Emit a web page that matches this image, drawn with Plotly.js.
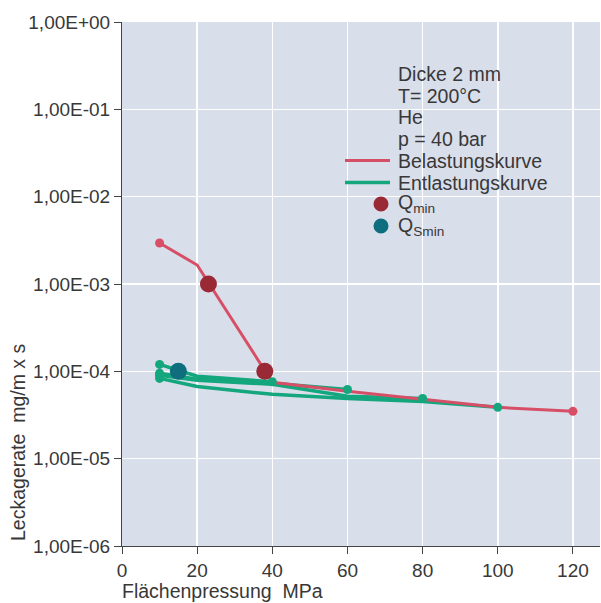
<!DOCTYPE html>
<html>
<head>
<meta charset="utf-8">
<script src="https://cdn.plot.ly/plotly-3.0.1.min.js"></script>
<style>html,body{margin:0;padding:0;background:#fff;}#chart{width:601px;height:603px;}</style>
</head>
<body>
<div id="chart"></div>
<script>
// Belastungskurve (loading curve)
const loadX = [10, 20, 40, 60, 80, 100, 120];
const loadY = [2.95e-3, 1.65e-3, 7.5e-5, 5.9e-5, 4.8e-5, 3.87e-5, 3.48e-5];

// Entlastungskurven (unloading curves)
const unload40X = [40, 20, 10];
const unload40Y = [7.6e-5, 8.8e-5, 1.2e-4];
const unload60X = [60, 40, 20, 10];
const unload60Y = [6.2e-5, 7.3e-5, 8.1e-5, 9.5e-5];
const unload80X = [80, 60, 40, 20, 10];
const unload80Y = [4.9e-5, 5.2e-5, 7.1e-5, 7.9e-5, 9.0e-5];
const unload100X = [100, 80, 60, 40, 20, 10];
const unload100Y = [3.87e-5, 4.5e-5, 4.9e-5, 5.45e-5, 6.7e-5, 8.3e-5];

// Q_min and Q_Smin points
const qminX = [23, 38];
const qminY = [1e-3, 1e-4];
const qsminX = [15];
const qsminY = [1e-4];

// Axis ticks
const yTickVals = [1, 1e-1, 1e-2, 1e-3, 1e-4, 1e-5, 1e-6];
const yTickText = ["1,00E+00", "1,00E-01", "1,00E-02", "1,00E-03", "1,00E-04", "1,00E-05", "1,00E-06"];
const xTickVals = [0, 20, 40, 60, 80, 100, 120];

const infoLines = ["Dicke 2 mm", "T= 200°C", "He", "p = 40 bar"];
const legendNames = ["Belastungskurve", "Entlastungskurve", "Q<sub>min</sub>", "Q<sub>Smin</sub>"];

const red = '#d64f66';
const green = '#14a67c';
const qminColor = '#992a35';
const qsminColor = '#0e6e7e';
const font = 'Liberation Sans, Arial, sans-serif';
const txt = '#383838';
const FS = 19.5;

// pixel -> paper helpers (plot area: x 122..600, y 22..546)
const px = v => (v - 122) / 478;
const py = v => 1 - (v - 22) / 524;

function ends(xs, ys) { return {x: [xs[0], xs[xs.length - 1]], y: [ys[0], ys[ys.length - 1]]}; }

const traces = [];
const unloads = [[unload100X, unload100Y], [unload80X, unload80Y], [unload60X, unload60Y], [unload40X, unload40Y]];
unloads.forEach((u) => {
  traces.push({x: u[0], y: u[1], mode: 'lines', name: 'Entlastungskurve', showlegend: false,
    line: {color: green, width: 3.5}});
});
traces.push({x: loadX, y: loadY, mode: 'lines', name: 'Belastungskurve', showlegend: false,
  line: {color: red, width: 3}});
unloads.forEach((u) => {
  const e = ends(u[0], u[1]);
  traces.push({x: e.x, y: e.y, mode: 'markers', showlegend: false, marker: {color: green, size: 9}});
});
const le = ends(loadX, loadY);
traces.push({x: le.x, y: le.y, mode: 'markers', showlegend: false, marker: {color: red, size: 9}});
traces.push({x: qminX, y: qminY, mode: 'markers', name: 'Q<sub>min</sub>', showlegend: false,
  marker: {color: qminColor, size: 17}});
traces.push({x: qsminX, y: qsminY, mode: 'markers', name: 'Q<sub>Smin</sub>', showlegend: false,
  marker: {color: qsminColor, size: 17}});

const annotations = [];
const rowY = [74, 95.5, 117, 139, 160.5, 182.5, 204, 226];
infoLines.concat(legendNames).forEach((t, i) => {
  annotations.push({xref: 'paper', yref: 'paper', x: px(396), y: py(rowY[i]),
    xanchor: 'left', yanchor: 'middle', text: t, showarrow: false,
    font: {family: font, size: FS, color: txt}});
});
annotations.push({xref: 'paper', yref: 'paper', x: px(120), y: py(591), xanchor: 'left', yanchor: 'middle',
  text: 'Flächenpressung  MPa', showarrow: false, font: {family: font, size: FS, color: txt}});
annotations.push({xref: 'paper', yref: 'paper', x: px(18), y: py(443), xanchor: 'center', yanchor: 'middle',
  textangle: -90, text: 'Leckagerate  mg/m x s', showarrow: false, font: {family: font, size: FS, color: txt}});

// manual legend symbols
const shapes = [
  {type: 'line', xref: 'paper', yref: 'paper', x0: px(345), x1: px(390), y0: py(160.5), y1: py(160.5),
    line: {color: red, width: 3}},
  {type: 'line', xref: 'paper', yref: 'paper', x0: px(345), x1: px(390), y0: py(182.5), y1: py(182.5),
    line: {color: green, width: 3.5}},
  {type: 'circle', xref: 'paper', yref: 'paper', x0: px(373.5), x1: px(388.5), y0: py(196.5), y1: py(211.5),
    fillcolor: qminColor, line: {width: 0}},
  {type: 'circle', xref: 'paper', yref: 'paper', x0: px(373.5), x1: px(388.5), y0: py(218.5), y1: py(233.5),
    fillcolor: qsminColor, line: {width: 0}}
];

const layout = {
  width: 601, height: 603,
  margin: {l: 122, r: 1, t: 22, b: 57},
  paper_bgcolor: '#ffffff', plot_bgcolor: '#d9deeb',
  font: {family: font, color: txt, size: FS},
  showlegend: false,
  xaxis: {range: [0, 127.2], tickvals: xTickVals, showgrid: true, gridcolor: '#ffffff', gridwidth: 1.5,
    zeroline: false, showline: true, linecolor: '#444', linewidth: 1, ticks: 'outside', ticklen: 7,
    tickcolor: '#444', tickfont: {family: font, size: 19, color: txt}},
  yaxis: {type: 'log', range: [-6, 0], tickvals: yTickVals, ticktext: yTickText, showgrid: true,
    gridcolor: '#ffffff', gridwidth: 1.5, zeroline: false, showline: true, linecolor: '#444', linewidth: 1,
    ticks: 'outside', ticklen: 7, tickcolor: '#444', tickfont: {family: font, size: 19, color: txt}},
  annotations: annotations,
  shapes: shapes
};

Plotly.newPlot('chart', traces, layout, {displayModeBar: false, staticPlot: true});
</script>
</body>
</html>
